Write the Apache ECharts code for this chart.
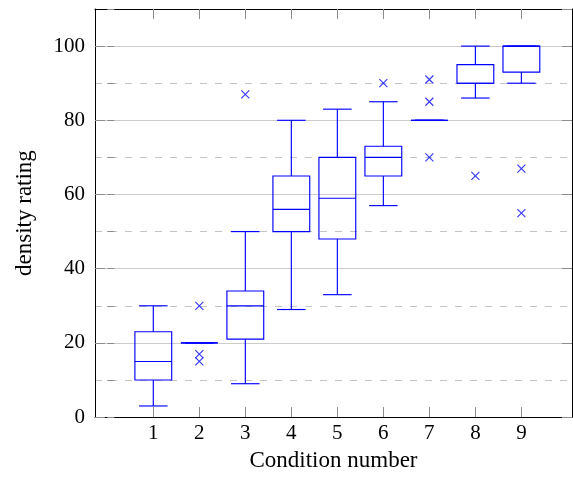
<!DOCTYPE html>
<html>
<head>
<meta charset="utf-8">
<script src="https://cdn.jsdelivr.net/npm/echarts@6/dist/echarts.min.js"></script>
<style>html,body{margin:0;padding:0;background:#fff;}#c{width:573px;height:477px;}</style>
</head>
<body>
<div id="c"></div>
<script>
var conditions = [1, 2, 3, 4, 5, 6, 7, 8, 9];
var lowerWhisker = [3, 20, 9, 29, 33, 57, 80, 86, 90];
var q1 = [10, 20, 21, 50, 48, 65, 80, 90, 93];
var median = [15, 20, 30, 56, 59, 70, 80, 90, 100];
var q3 = [23, 20, 34, 65, 70, 73, 80, 95, 100];
var upperWhisker = [30, 20, 50, 80, 83, 85, 80, 100, 100];
var outliers = [[2, 30], [2, 17], [2, 15], [3, 87], [6, 90], [7, 91], [7, 85], [7, 70], [8, 65], [9, 67], [9, 55]];
var yMajorTicks = [0, 20, 40, 60, 80, 100];

var FONT = 'Liberation Serif';
var BLUE = '#0000ff';
var boxData = conditions.map(function (c, i) {
  return [c, lowerWhisker[i], q1[i], median[i], q3[i], upperWhisker[i]];
});

var chart = echarts.init(document.getElementById('c'), null, {renderer: 'canvas'});
var tickStyle = {color: '#8c8c8c', width: 1};
chart.setOption({
  animation: false,
  backgroundColor: '#fff',
  color: [BLUE],
  grid: {left: 95, right: 1, top: 9, bottom: 58, containLabel: false},
  xAxis: [{
    type: 'value', position: 'bottom', min: -0.267, max: 10.1,
    axisLine: {show: true, onZero: false, lineStyle: {color: '#000', width: 1}},
    axisTick: {show: true, inside: true, length: 10, lineStyle: tickStyle, customValues: conditions},
    axisLabel: {show: true, margin: 6, color: '#000', fontFamily: FONT, fontSize: 21, customValues: conditions},
    splitLine: {show: false},
    name: 'Condition number', nameLocation: 'middle', nameGap: 25,
    nameTextStyle: {color: '#000', fontFamily: FONT, fontSize: 23}
  }, {
    type: 'value', position: 'top', min: -0.267, max: 10.1,
    axisLine: {show: true, onZero: false, lineStyle: {color: '#000', width: 1}},
    axisTick: {show: true, inside: true, length: 10, lineStyle: tickStyle, customValues: conditions},
    axisLabel: {show: false},
    splitLine: {show: false}
  }],
  yAxis: [{
    type: 'value', position: 'left', min: 0, max: 110, interval: 20,
    axisLine: {show: true, onZero: false, lineStyle: {color: '#000', width: 1}},
    axisTick: {show: true, inside: true, length: 10, lineStyle: tickStyle},
    axisLabel: {show: true, margin: 10, color: '#000', fontFamily: FONT, fontSize: 21, showMaxLabel: false,
      formatter: function (v) { return yMajorTicks.indexOf(v) >= 0 ? String(v) : ''; }},
    splitLine: {show: true, lineStyle: {color: '#cccccc', width: 1}},
    name: 'density rating', nameLocation: 'middle', nameGap: 59,
    nameTextStyle: {color: '#000', fontFamily: FONT, fontSize: 23}
  }, {
    type: 'value', position: 'left', min: 0, max: 110, interval: 10,
    axisLine: {show: false},
    axisTick: {show: true, inside: true, length: 7, lineStyle: tickStyle},
    axisLabel: {show: false},
    splitLine: {show: true, lineStyle: {color: ['rgba(0,0,0,0)', '#c4c4c4'], width: 1, type: [7, 8]}}
  }, {
    type: 'value', position: 'right', min: 0, max: 110, interval: 20,
    axisLine: {show: true, onZero: false, lineStyle: {color: '#000', width: 1}},
    axisTick: {show: true, inside: true, length: 10, lineStyle: tickStyle},
    axisLabel: {show: false},
    splitLine: {show: false}
  }],
  series: [{
    type: 'custom',
    xAxisIndex: 0, yAxisIndex: 0,
    data: boxData,
    z: 5,
    itemStyle: {color: BLUE, borderColor: BLUE},
    renderItem: function (params, api) {
      var x = api.value(0);
      var lo = api.coord([x, api.value(1)]);
      var a = api.coord([x, api.value(2)]);
      var m = api.coord([x, api.value(3)]);
      var b = api.coord([x, api.value(4)]);
      var hi = api.coord([x, api.value(5)]);
      var unit = api.size([1, 0])[0];
      var bw = unit * 0.8, cw = unit * 0.62;
      var cx = lo[0];
      var bl = cx - bw / 2, br = cx + bw / 2;
      var cl = cx - cw / 2, cr = cx + cw / 2;
      var st = function () { return {stroke: BLUE, fill: 'none', lineWidth: 1.15}; };
      return {
        type: 'group',
        children: [
          {type: 'polyline', shape: {points: [[cx, b[1]], [cx, hi[1]]]}, style: st()},
          {type: 'polyline', shape: {points: [[cx, a[1]], [cx, lo[1]]]}, style: st()},
          {type: 'polyline', shape: {points: [[cl, hi[1]], [cr, hi[1]]]}, style: st()},
          {type: 'polyline', shape: {points: [[cl, lo[1]], [cr, lo[1]]]}, style: st()},
          {type: 'polygon', shape: {points: [[bl, b[1]], [br, b[1]], [br, a[1]], [bl, a[1]]]}, style: st()},
          {type: 'polyline', shape: {points: [[bl, m[1]], [br, m[1]]]}, style: st()}
        ]
      };
    }
  }, {
    type: 'scatter',
    xAxisIndex: 0, yAxisIndex: 0,
    data: outliers,
    z: 6,
    symbol: 'path://M0,0L10,10M10,0L0,10',
    symbolSize: 8,
    itemStyle: {color: 'none', borderColor: BLUE, borderWidth: 1.1}
  }]
});
</script>
</body>
</html>
